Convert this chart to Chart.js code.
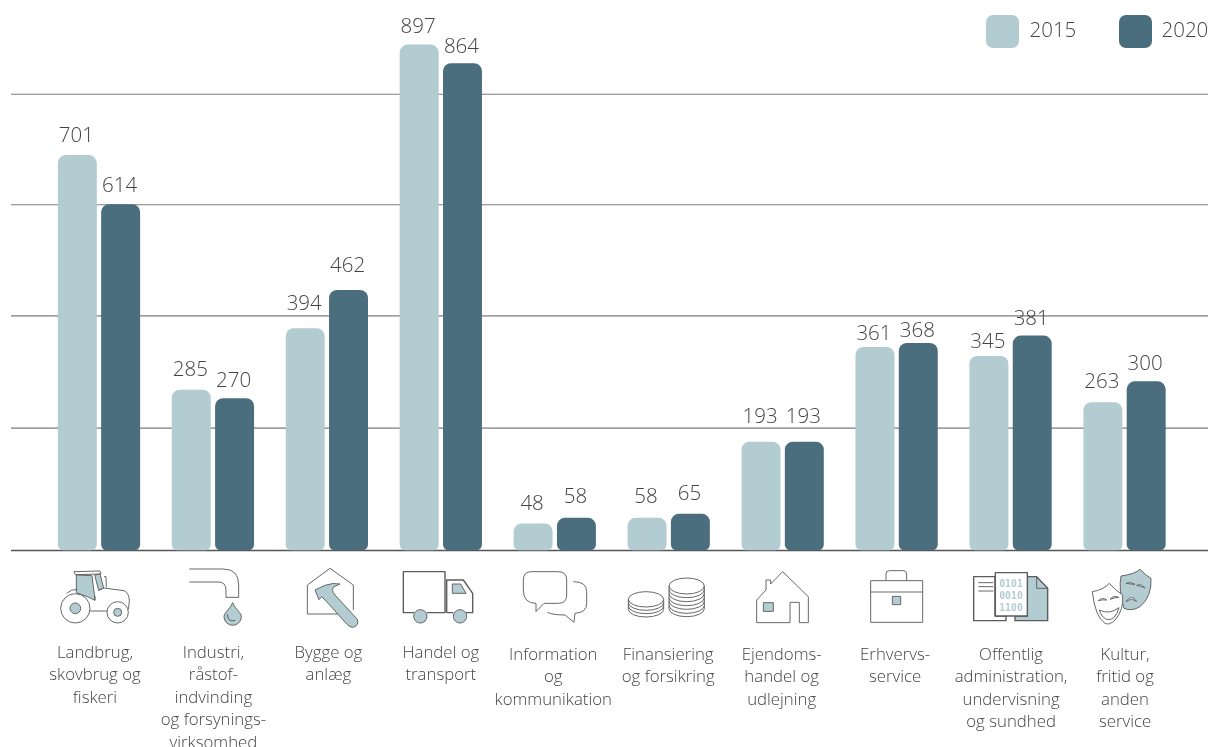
<!DOCTYPE html>
<html lang="da">
<head>
<meta charset="utf-8">
<title>Landbrug og erhverv 2015 / 2020</title>
<script src="https://cdn.jsdelivr.net/npm/chart.js@4"></script>
<style>
  html, body { margin: 0; padding: 0; background: #fff; }
  canvas { display: block; }
</style>
</head>
<body>
<canvas id="chart" width="1208" height="747"></canvas>
<script>
/* ---------- Data ---------- */
const categories = [
  ['Landbrug,', 'skovbrug og', 'fiskeri'],
  ['Industri,', 'råstof-', 'indvinding', 'og forsynings-', 'virksomhed'],
  ['Bygge og', 'anlæg'],
  ['Handel og', 'transport'],
  ['Information', 'og', 'kommunikation'],
  ['Finansiering', 'og forsikring'],
  ['Ejendoms-', 'handel og', 'udlejning'],
  ['Erhvervs-', 'service'],
  ['Offentlig', 'administration,', 'undervisning', 'og sundhed'],
  ['Kultur,', 'fritid og', 'anden', 'service']
];
const values2015 = [701, 285, 394, 897, 48, 58, 193, 361, 345, 263];
const values2020 = [614, 270, 462, 864, 58, 65, 193, 368, 381, 300];
const gridValues = [0, 217, 416, 613, 809];
const yMax = 976;

/* ---------- Styles ---------- */
const LIGHT = '#b2ccd2';
const DARK = '#4a6e7e';
const INK = '#444444';
const LINE = '#555555';
const FONT = "'Open Sans', sans-serif";

// small nudges of the category captions, same order as categories
const captionDx = [-4, 0.5, 1.5, 0, -1.5, -0.5, -1, -1.5, 0.5, 0.5];
const captionBaseline = [658, 658, 658, 658, 660, 660, 660, 660, 660, 660];

// how far each value label floats above its bar, per dataset
const labelLift = [
  [21, 22, 27, 20, 22, 23, 27, 15, 16, 23],
  [21, 20, 26, 19, 23, 22, 27, 14, 19, 20]
];

// x of each legend swatch, one per dataset
const legendX = [986, 1119];
const legendGap = [43.5, 42.5];

/* ---------- Icons, drawn in 3x coordinates ---------- */
const ICONS = [
  { ox: 0, parts: [
    { d: 'M222 35 L300 33 L303 42 L226 44 Z', fill: '#fff' },
    { d: 'M229 45 L276 47 L285 121 L262 110 L229 98 Z', fill: LIGHT },
    { d: 'M284 45 L300 42 L311 84 L296 91 Z', fill: LIGHT },
    { d: 'M312 50 L318 50 L319 82' },
    { d: 'M200 100 Q212 88 232 88 M296 91 L311 84 L372 92 Q388 98 388 125 L385 148 M285 121 L285 108 M268 153 L322 153' },
    { circle: [226, 145, 44], fill: '#fff' },
    { circle: [226, 145, 16], fill: LIGHT },
    { circle: [353, 157, 32], fill: '#fff' },
    { circle: [353, 157, 12], fill: LIGHT }
  ] },
  { ox: 0, parts: [
    { d: 'M568 27 L670 27 Q716 27 716 75 L716 112 L678 112 L678 90 Q678 66 655 66 L568 66' },
    { d: 'M698 128 C688 150 672 158 672 170 A26 26 0 0 0 724 170 C724 158 708 150 698 128 Z', fill: LIGHT },
    { d: 'M682 163 Q683 188 706 181' }
  ] },
  { ox: 0, parts: [
    { d: 'M1030 162 L922 162 L922 75 L990 25 L1060 75 L1060 150' },
    { d: 'M945 90 L975 76 Q1000 67 1020 72 L1002 80 Q992 90 1005 105 L1072 178 Q1078 196 1060 202 Q1050 203 1040 192 L980 125 L965 110 L957 119 Z', fill: LIGHT }
  ] },
  { ox: 400, parts: [
    { d: 'M42 158 L10 158 L10 35 L135 35 L135 158 L80 158', wide: true },
    { d: 'M140 158 L140 60 L190 60 L218 100 L218 158 L198 158 M140 158 L160 158', wide: true },
    { d: 'M157 72 L182 72 L198 100 L157 100 Z', fill: LIGHT },
    { circle: [61, 169, 20], fill: LIGHT },
    { circle: [180, 169, 20], fill: LIGHT }
  ] },
  { ox: 400, parts: [
    { d: 'M395 35 L475 35 Q500 35 500 60 L500 105 Q500 130 475 130 L432 130 L408 155 L408 130 Q370 130 370 90 L370 60 Q370 35 395 35 Z' },
    { d: 'M520 65 Q560 65 560 95 L560 130 Q560 158 525 160 L522 187 L495 165 Q460 165 442 157' }
  ] },
  { ox: 400, parts: [
    { d: 'M685 118 A53 23 0 1 1 791 118 A53 23 0 1 1 685 118 Z M685 118 L685 148 A53 23 0 0 0 791 148 L791 118 M685 128 A53 23 0 0 0 791 128 M685 138 A53 23 0 0 0 791 138' },
    { d: 'M807 78 A53 24 0 1 1 913 78 A53 24 0 1 1 807 78 Z M807 78 L807 146 A53 24 0 0 0 913 146 L913 78 M807 89 A53 24 0 0 0 913 89 M807 101 A53 24 0 0 0 913 101 M807 113 A53 24 0 0 0 913 113 M807 124 A53 24 0 0 0 913 124 M807 136 A53 24 0 0 0 913 136' }
  ] },
  { ox: 400, parts: [
    { d: 'M1070 120 L1098 90 L1098 60 L1112 60 L1112 72 L1148 35 L1225 110 L1225 188 L1198 188 L1198 127 L1170 127 L1170 188 L1070 188 Z' },
    { d: 'M1090 128 L1120 128 L1120 154 L1090 154 Z', fill: LIGHT }
  ] },
  { ox: 820, parts: [
    { d: 'M152 62 L308 62 L308 187 L152 187 Z M152 96 L308 96 M198 62 L198 42 Q198 32 208 32 L250 32 Q260 32 260 42 L260 62' },
    { d: 'M217 109 L242 109 L242 134 L217 134 Z', fill: LIGHT }
  ] },
  { ox: 820, parts: [
    { d: 'M461 50 L525 50 L525 168 L558 168 L558 182 L461 182 Z', wide: true },
    { d: 'M475 68 L520 68 M475 80 L520 80 M475 93 L520 93' },
    { d: 'M585 168 L585 182 L683 182 L683 85 L650 50 L622 50 L622 168 Z', fill: LIGHT, wide: true },
    { d: 'M650 50 L650 85 L683 85' },
    { d: 'M526 38 L622 38 L622 168 L526 168 Z', fill: '#fff', wide: true },
    { digits: ['0101', '0010', '1100'] }
  ] },
  { ox: 820, parts: [
    { d: 'M903 48 Q945 42 960 28 Q975 45 993 55 Q996 110 960 140 Q935 155 912 145 Q895 90 903 48 Z', fill: LIGHT },
    { d: 'M918 70 Q930 64 945 73 Q930 72 918 70 Z M950 76 Q965 70 975 84 Q962 78 950 76 Z M918 125 Q935 100 950 125 Q935 112 918 125 Z', fill: '#fff' },
    { d: 'M817 95 Q850 90 868 70 Q890 95 908 105 Q912 150 885 180 Q868 197 855 190 Q825 170 817 95 Z', fill: '#fff' },
    { d: 'M835 122 Q848 110 860 120 Q848 118 835 122 Z M870 118 Q882 104 896 112 Q882 113 870 118 Z M838 150 Q868 165 897 143 Q885 185 860 178 Q845 172 838 150 Z', fill: '#fff' }
  ] }
];

/* ---------- Plugins ---------- */
const wideGrid = {
  id: 'wideGrid',
  beforeDatasetsDraw(chart) {
    const { ctx, scales: { y } } = chart;
    y.ticks.forEach(t => {
      const py = y.getPixelForValue(t.value);
      ctx.save();
      ctx.strokeStyle = t.value === 0 ? LINE : '#7c7c7c';
      ctx.lineWidth = t.value === 0 ? 1.4 : 1.1;
      ctx.beginPath();
      ctx.moveTo(11, py);
      ctx.lineTo(1208, py);
      ctx.stroke();
      ctx.restore();
    });
  }
};

const valueLabels = {
  id: 'valueLabels',
  afterDatasetsDraw(chart) {
    const { ctx } = chart;
    ctx.save();
    ctx.font = `300 20.5px ${FONT}`;
    ctx.fillStyle = INK;
    ctx.textAlign = 'center';
    ctx.textBaseline = 'middle';
    chart.data.datasets.forEach((ds, i) => {
      chart.getDatasetMeta(i).data.forEach((bar, j) => {
        ctx.fillText(ds.data[j], bar.x - 1, bar.y - labelLift[i][j] + 2.5);
      });
    });
    ctx.restore();
  }
};

const categoryCaptions = {
  id: 'categoryCaptions',
  afterDraw(chart) {
    const { ctx, scales: { x } } = chart;
    ctx.save();
    ctx.font = `300 16.8px ${FONT}`;
    ctx.fillStyle = INK;
    ctx.textAlign = 'center';
    ctx.textBaseline = 'alphabetic';
    categories.forEach((lines, i) => {
      const cx = x.getPixelForValue(i) + captionDx[i];
      lines.forEach((line, k) => ctx.fillText(line, cx, captionBaseline[i] + k * 22.4));
    });
    ctx.restore();
  }
};

const iconRow = {
  id: 'iconRow',
  afterDraw(chart) {
    const { ctx } = chart;
    ICONS.forEach(icon => {
      ctx.save();
      ctx.translate(icon.ox, 560);
      ctx.scale(1 / 3, 1 / 3);
      ctx.strokeStyle = '#5c5c5c';
      ctx.lineJoin = 'round';
      icon.parts.forEach(p => {
        if (p.digits) {
          ctx.fillStyle = LIGHT;
          ctx.font = "bold 32px 'DejaVu Sans Mono', monospace";
          ctx.textAlign = 'center';
          p.digits.forEach((s, k) => ctx.fillText(s, 573, 80 + k * 36, 71));
          return;
        }
        const path = new Path2D();
        if (p.circle) path.arc(p.circle[0], p.circle[1], p.circle[2], 0, Math.PI * 2);
        else path.addPath(new Path2D(p.d));
        if (p.fill) { ctx.fillStyle = p.fill; ctx.fill(path); }
        ctx.lineWidth = p.wide ? 4.2 : 2.8;
        ctx.stroke(path);
      });
      ctx.restore();
    });
  }
};

// legend keys in the top right corner, above the chart's own layout
const legendKeys = {
  id: 'legendKeys',
  afterDraw(chart) {
    const { ctx } = chart;
    ctx.save();
    ctx.font = `300 20.5px ${FONT}`;
    ctx.textBaseline = 'middle';
    chart.data.datasets.forEach((ds, i) => {
      ctx.fillStyle = ds.backgroundColor;
      ctx.beginPath();
      ctx.roundRect(legendX[i], 15, 33, 33, 7);
      ctx.fill();
      ctx.fillStyle = INK;
      ctx.fillText(ds.label, legendX[i] + legendGap[i], 31);
    });
    ctx.restore();
  }
};

/* ---------- Chart ---------- */
new Chart(document.getElementById('chart'), {
  type: 'bar',
  data: {
    labels: categories.map(c => c.join(' ')),
    datasets: [
      { label: '2015', data: values2015, backgroundColor: LIGHT },
      { label: '2020', data: values2020, backgroundColor: DARK }
    ]
  },
  plugins: [wideGrid, valueLabels, categoryCaptions, iconRow, legendKeys],
  options: {
    responsive: false,
    animation: false,
    layout: { padding: { left: 42, right: 26.5, top: 0, bottom: 196.5 } },
    datasets: {
      bar: {
        categoryPercentage: 0.76,
        barPercentage: 0.9,
        borderRadius: { topLeft: 8, topRight: 8, bottomLeft: 6, bottomRight: 6 },
        borderSkipped: false
      }
    },
    plugins: {
      legend: { display: false },
      tooltip: { enabled: false }
    },
    scales: {
      x: { display: false },
      y: {
        display: false,
        min: 0, max: yMax,
        afterBuildTicks: axis => { axis.ticks = gridValues.map(value => ({ value })); }
      }
    }
  }
});
</script>
</body>
</html>
